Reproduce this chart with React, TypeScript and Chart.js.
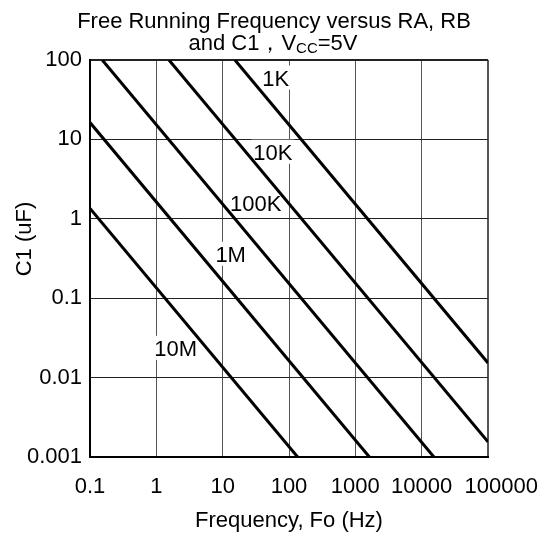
import React, { useEffect, useRef } from 'react';
import { Chart, registerables } from 'chart.js';

Chart.register(...registerables);

const FONT = '"Liberation Sans", Arial, Helvetica, sans-serif';

const titleLine1 = 'Free Running Frequency versus RA, RB';
const titleLine2Main = 'and C1，V';
const titleLine2Sub = 'CC';
const titleLine2End = '=5V';
const xAxisTitle = 'Frequency, Fo (Hz)';
const yAxisTitle = 'C1 (uF)';

const xTicks = [0.1, 1, 10, 100, 1000, 10000, 100000];
const xTickLabels = ['0.1', '1', '10', '100', '1000', '10000', '100000'];
const yTicks = [0.001, 0.01, 0.1, 1, 10, 100];
const yTickLabels = ['0.001', '0.01', '0.1', '1', '10', '100'];

const seriesNames = ['1K', '10K', '100K', '1M', '10M'];
const freq1K = [15.3, 100000];
const cap1K = [100, 0.0153];
const freq10K = [1.55, 100000];
const cap10K = [100, 0.00155];
const freq100K = [0.153, 15300];
const cap100K = [100, 0.001];
const freq1M = [0.1, 1630];
const cap1M = [16.3, 0.001];
const freq10M = [0.1, 135];
const cap10M = [1.35, 0.001];

// where each series name sits (frequency, capacitance)
const labelFreq = [63, 57, 31.5, 13.2, 1.95];
const labelCap = [60, 7.0, 1.6, 0.363, 0.0237];

const seriesFreq = [freq1K, freq10K, freq100K, freq1M, freq10M];
const seriesCap = [cap1K, cap10K, cap100K, cap1M, cap10M];

const annotatePlugin = {
  id: 'annotate',
  beforeDatasetsDraw(chart: any) {
    const { ctx } = chart;
    const xs = chart.scales.x;
    const ys = chart.scales.y;
    ctx.save();
    ctx.font = `22px ${FONT}`;
    ctx.textAlign = 'center';
    ctx.textBaseline = 'alphabetic';
    seriesNames.forEach((n, i) => {
      const px = xs.getPixelForValue(labelFreq[i]);
      const py = ys.getPixelForValue(labelCap[i]);
      const w = ctx.measureText(n).width;
      ctx.fillStyle = '#ffffff';
      ctx.fillRect(px - w / 2 - 2, py - 12, w + 4, 24);
      ctx.fillStyle = '#000000';
      ctx.fillText(n, px, py + 8);
    });
    ctx.restore();
  },
  afterDraw(chart: any) {
    const { ctx } = chart;
    ctx.save();
    ctx.fillStyle = '#000000';
    ctx.textBaseline = 'alphabetic';
    // title line 1
    ctx.font = `22px ${FONT}`;
    ctx.textAlign = 'center';
    ctx.fillText(titleLine1, 274, 28);
    // title line 2 with subscript
    const mainFont = `22px ${FONT}`;
    const subFont = `15px ${FONT}`;
    ctx.font = mainFont;
    const w1 = ctx.measureText(titleLine2Main).width;
    const w3 = ctx.measureText(titleLine2End).width;
    ctx.font = subFont;
    const w2 = ctx.measureText(titleLine2Sub).width;
    let x = 273 - (w1 + w2 + w3) / 2;
    ctx.textAlign = 'left';
    ctx.font = mainFont;
    ctx.fillText(titleLine2Main, x, 50);
    x += w1;
    ctx.font = subFont;
    ctx.fillText(titleLine2Sub, x, 53);
    x += w2;
    ctx.font = mainFont;
    ctx.fillText(titleLine2End, x, 50);
    // y axis title
    ctx.translate(31, 239);
    ctx.rotate(-Math.PI / 2);
    ctx.textAlign = 'center';
    ctx.font = `22px ${FONT}`;
    ctx.fillText(yAxisTitle, 0, 0);
    ctx.restore();
  },
};

export default function App() {
  const ref = useRef<HTMLCanvasElement>(null);

  useEffect(() => {
    const canvas = ref.current;
    if (!canvas) return;
    const datasets = seriesNames.map((name, i) => ({
      label: name,
      data: seriesFreq[i].map((f, j) => ({ x: f, y: seriesCap[i][j] })),
      borderColor: '#000000',
      backgroundColor: '#000000',
      borderWidth: 3,
      pointRadius: 0,
      fill: false,
      tension: 0,
    }));

    const chart = new Chart(canvas, {
      type: 'line',
      data: { datasets },
      plugins: [annotatePlugin],
      options: {
        animation: false,
        responsive: false,
        maintainAspectRatio: false,
        layout: { padding: { top: 60, right: 54, left: 0, bottom: 0 } },
        plugins: {
          legend: { display: false },
          tooltip: { enabled: false },
          title: { display: false },
        },
        scales: {
          x: {
            type: 'logarithmic',
            min: 0.1,
            max: 100000,
            afterBuildTicks: (scale: any) => {
              scale.ticks = xTicks.map((v) => ({ value: v }));
            },
            afterFit: (scale: any) => {
              scale.height = 76;
              scale.paddingLeft = 0;
              scale.paddingRight = 0;
            },
            ticks: {
              autoSkip: false,
              maxRotation: 0,
              minRotation: 0,
              padding: 17,
              color: '#000000',
              font: { family: FONT, size: 22 },
              callback: (_v: any, index: number) =>
                index === xTickLabels.length - 1
                  ? '\u2002\u2002\u2009' + xTickLabels[index]
                  : xTickLabels[index],
            },
            grid: {
              color: '#555555',
              lineWidth: (c: any) => (c.tick && c.tick.value === 100000 ? 2 : 1),
              drawTicks: false,
            },
            border: { display: true, color: '#000000', width: 2 },
            title: {
              display: true,
              text: xAxisTitle,
              color: '#000000',
              font: { family: FONT, size: 22, lineHeight: 1.1 },
              padding: 0,
            },
          },
          y: {
            type: 'logarithmic',
            min: 0.001,
            max: 100,
            afterBuildTicks: (scale: any) => {
              scale.ticks = yTicks.map((v) => ({ value: v }));
            },
            afterFit: (scale: any) => {
              scale.width = 90;
              scale.paddingTop = 0;
              scale.paddingBottom = 0;
            },
            ticks: {
              autoSkip: false,
              padding: 8,
              color: '#000000',
              font: { family: FONT, size: 22 },
              callback: (_v: any, index: number) => yTickLabels[index],
            },
            grid: {
              color: '#222222',
              lineWidth: (c: any) => (c.tick && c.tick.value === 100 ? 2 : 1),
              drawTicks: false,
            },
            border: { display: true, color: '#000000', width: 2 },
          },
        },
      },
    } as any);

    return () => chart.destroy();
  }, []);

  return (
    <div style={{ position: 'absolute', left: 0, top: 0, width: 542, height: 533 }}>
      <canvas ref={ref} width={542} height={533} style={{ display: 'block', width: 542, height: 533 }} />
    </div>
  );
}
